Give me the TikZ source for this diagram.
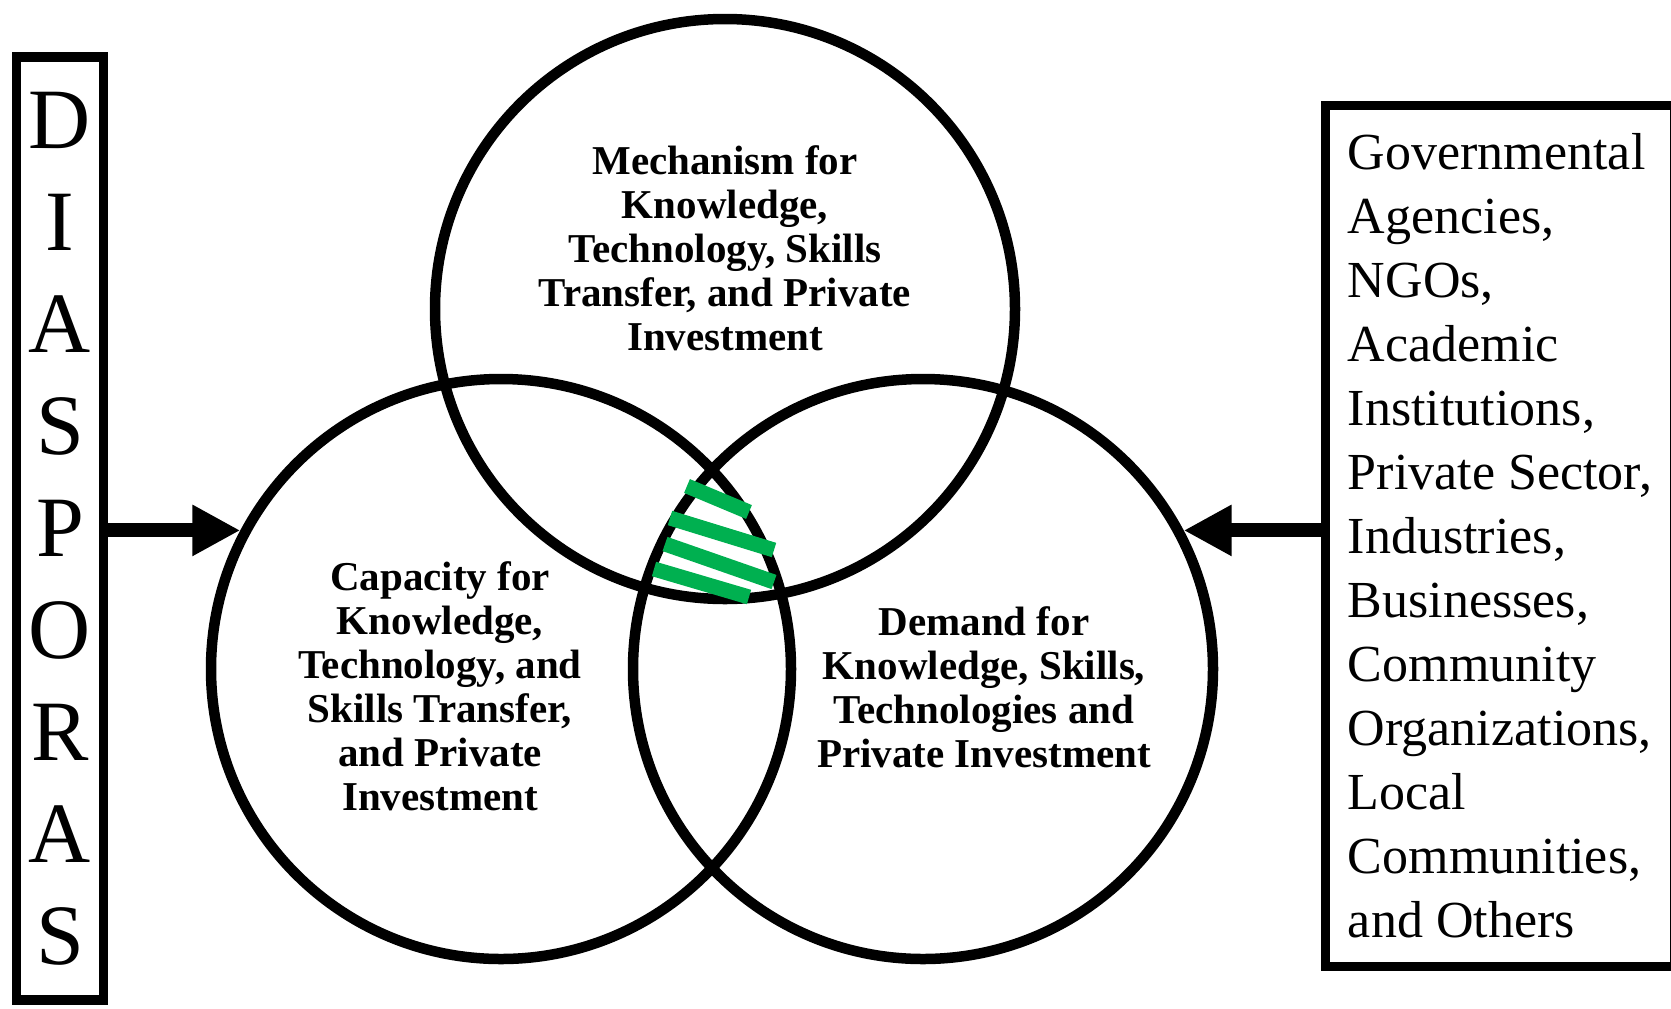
\documentclass[tikz,border=0pt]{standalone}
\usepackage{fontspec}
\setmainfont{Liberation Serif}
\usetikzlibrary{arrows.meta}
\definecolor{stripegreen}{HTML}{00B050}
\begin{document}
\begin{tikzpicture}[x=0.5pt,y=-0.5pt,
  ring/.style={circle,draw,line width=5.25pt,minimum size=290pt,inner sep=0pt},
  ringtext/.style={align=center,font=\fontsize{20.5pt}{22pt}\selectfont\bfseries},
  flow/.style={line width=7pt,-{Triangle[length=24pt,width=24pt]}},
  stripe/.style={stripegreen,line width=7.5pt}]
\useasboundingbox (0,0) rectangle (1671,1008);
% the three circles
\node[ring] (mech) at (725,309) {};
\node[ring] (capa) at (501,669) {};
\node[ring] (dem) at (923,669) {};
\node[ringtext] (mechtext) at (725,248) {Mechanism for\\Knowledge,\\Technology, Skills\\Transfer, and Private\\Investment};
\node[ringtext] (capatext) at (440,686) {Capacity for\\Knowledge,\\Technology, and\\Skills Transfer,\\and Private\\Investment};
\node[ringtext] (demtext) at (984,687) {Demand for\\Knowledge, Skills,\\Technologies and\\Private Investment};
% green stripes in the middle
\draw[stripe] (687,486) -- (749,512);
\draw[stripe] (670,518) -- (774,550);
\draw[stripe] (665,544) -- (774,582);
\draw[stripe] (654,569) -- (749,597);
% side boxes
\node[draw,line width=4.75pt,minimum width=43.5pt,minimum height=471.5pt,inner sep=0pt,
  align=center,font=\fontsize{43pt}{51pt}\selectfont] (dias) at (60,528.5)
  {D\\I\\A\\S\\P\\O\\R\\A\\S};
\node[draw,line width=4.5pt,minimum width=174.75pt,minimum height=430.5pt,inner sep=0pt,
  align=left,font=\fontsize{26pt}{32pt}\selectfont] (actors) at (1500,535.5)
  {Governmental\\Agencies,\\NGOs,\\Academic\\Institutions,\\Private Sector,\\Industries,\\Businesses,\\Community\\Organizations,\\Local\\Communities,\\and Others};
% arrows
\draw[flow] (dias.east |- capa.152) -- (capa.152);
\draw[flow] (actors.west |- dem.28) -- (dem.28);
\end{tikzpicture}
\end{document}
